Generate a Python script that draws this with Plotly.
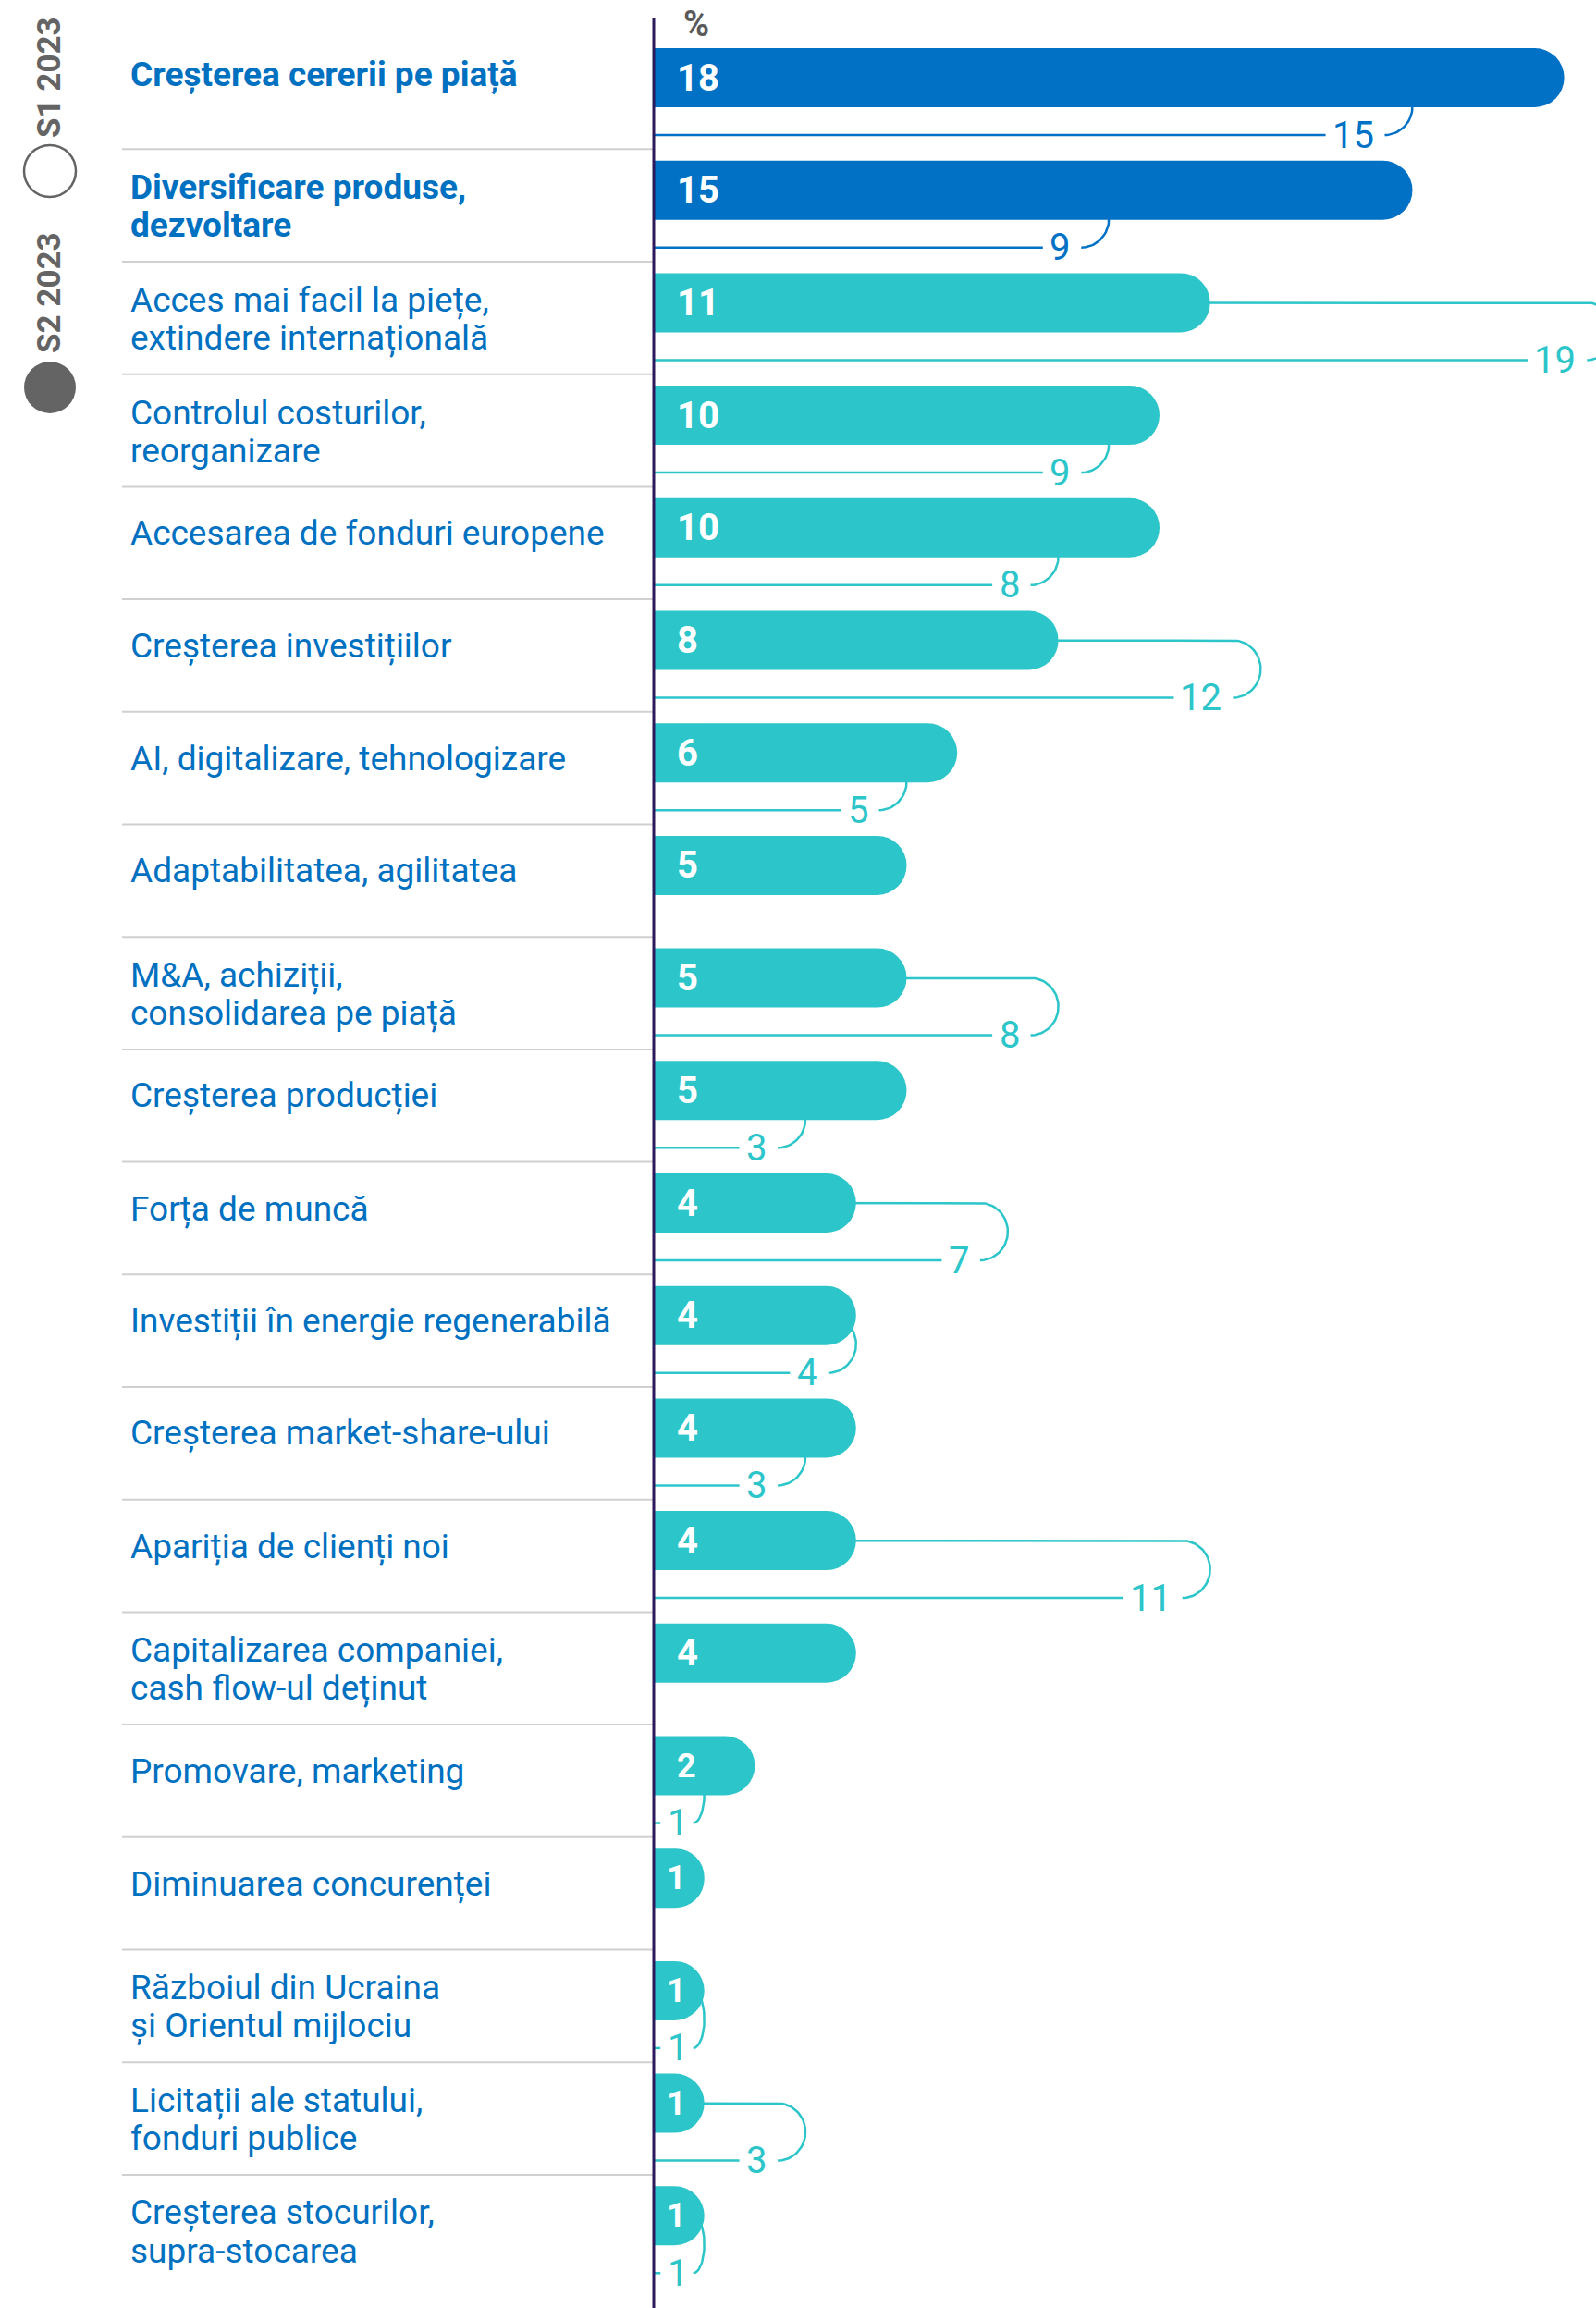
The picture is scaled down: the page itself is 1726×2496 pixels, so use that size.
import numpy as np
import plotly.graph_objects as go

# ---------------- data ----------------
categories = [
    "Creșterea cererii pe piață",
    "Diversificare produse,<br>dezvoltare",
    "Acces mai facil la piețe,<br>extindere internațională",
    "Controlul costurilor,<br>reorganizare",
    "Accesarea de fonduri europene",
    "Creșterea investițiilor",
    "AI, digitalizare, tehnologizare",
    "Adaptabilitatea, agilitatea",
    "M&A, achiziții,<br>consolidarea pe piață",
    "Creșterea producției",
    "Forța de muncă",
    "Investiții în energie regenerabilă",
    "Creșterea market-share-ului",
    "Apariția de clienți noi",
    "Capitalizarea companiei,<br>cash flow-ul deținut",
    "Promovare, marketing",
    "Diminuarea concurenței",
    "Războiul din Ucraina<br>și Orientul mijlociu",
    "Licitații ale statului,<br>fonduri publice",
    "Creșterea stocurilor,<br>supra-stocarea",
]
s2_2023 = [18, 15, 11, 10, 10, 8, 6, 5, 5, 5, 4, 4, 4, 4, 4, 2, 1, 1, 1, 1]
s1_2023 = [15, 9, 19, 9, 8, 12, 5, None, 8, 3, 7, 4, 3, 11, None, 1, None, 1, 3, 1]
highlighted = [True, True] + [False] * 18
series_names = ["S1 2023", "S2 2023"]
unit_label = "%"

# ---------------- style / layout constants ----------------
W, H = 1726, 2496
AXIS_X = 707          # px of the value axis
PX = 54.7             # px per percentage point
ROW = 121.7           # px per row
TOP = 84              # px of first bar centre
BAR_PX = 64
LOW_PX = 62           # offset of the S1 line below the bar centre
S1_SIZE = 40
DIGIT_W = 0.562 * S1_SIZE

BLUE = "#0071C5"
TEAL = "#2CC5C9"
TEXT_BLUE = "#0070C0"
GRAY = "#646464"
AXIS_COL = "#2D1A5C"
FONT = "Roboto"

n = len(categories)
rows = list(range(n))
half = (LOW_PX / ROW) / 2

fig = go.Figure()

# S1 connectors (on base axis, drawn under the bars)
for i, (v, hl) in enumerate(zip(s1_2023, highlighted)):
    if v is None:
        continue
    col = BLUE if hl else TEAL
    r_px = 30 if v >= 2 else 12
    gap = 10 if v >= 2 else 4
    r = r_px / PX
    th = np.linspace(-np.pi / 2, np.pi / 2, 41)
    xs = [0, v - r] + list(v - r + r * np.cos(th))
    ys = [i, i] + list(i + half + half * np.sin(th))
    lab = str(v)
    lab_right = v - r - gap / PX
    lab_left = lab_right - len(lab) * DIGIT_W / PX
    xs += [None, max(lab_left - 9 / PX, 0), 0]
    ys += [None, i + 2 * half, i + 2 * half]
    fig.add_trace(go.Scatter(x=xs, y=ys, mode="lines",
                             line=dict(color=col, width=2.5),
                             hoverinfo="skip", showlegend=False))
    fig.add_annotation(x=lab_right, y=i + 2 * half, xref="x", yref="y",
                       text=lab, showarrow=False, xanchor="right", yanchor="middle",
                       font=dict(family=FONT, size=S1_SIZE, color=col))

# S2 bars (on overlaying axis so they cover the connectors)
fig.add_trace(go.Bar(
    x=s2_2023, y=rows, orientation="h", yaxis="y2",
    width=BAR_PX / ROW,
    marker=dict(color=[BLUE if h else TEAL for h in highlighted],
                cornerradius="50%", line=dict(width=0)),
    hoverinfo="skip", showlegend=False,
))

# values inside bars
for i, v in enumerate(s2_2023):
    fig.add_annotation(x=0, y=i, xref="x", yref="y", text=str(v), showarrow=False,
                       xanchor="left", yanchor="middle", xshift=23 if v >= 2 else 12,
                       font=dict(family=FONT, size=40 if v >= 3 else 36,
                                 color="white", weight="bold"))

# category labels
for i, (lab, hl) in enumerate(zip(categories, highlighted)):
    parts = lab.split("<br>")
    base = 3 if (len(parts) > 1 or hl) else -6
    for k, line in enumerate(parts):
        fig.add_annotation(x=0, y=i, xref="paper", yref="y", text=line, showarrow=False,
                           xanchor="left", yanchor="middle",
                           xshift=139 - AXIS_X, yshift=base - 41 * k,
                           font=dict(family=FONT, size=37, color=TEXT_BLUE,
                                     weight="bold" if hl else "normal"))

shapes = []
# row separators
for i in range(n - 1):
    shapes.append(dict(type="line", xref="paper", xsizemode="pixel", xanchor=0,
                       x0=132 - AXIS_X, x1=0, yref="y", y0=i + 0.635, y1=i + 0.635,
                       line=dict(color="#D0D0D0", width=2), layer="above"))
# value axis line
shapes.append(dict(type="line", xref="paper", x0=0, x1=0, yref="paper",
                   y0=0, y1=1 - 19 / H, line=dict(color=AXIS_COL, width=3), layer="above"))
# legend circles
shapes.append(dict(type="circle", xref="paper", xsizemode="pixel", xanchor=0,
                   x0=26 - AXIS_X, x1=82 - AXIS_X, yref="paper", ysizemode="pixel",
                   yanchor=1, y0=-157, y1=-213,
                   line=dict(color=GRAY, width=2.5), fillcolor="white"))
shapes.append(dict(type="circle", xref="paper", xsizemode="pixel", xanchor=0,
                   x0=26 - AXIS_X, x1=82 - AXIS_X, yref="paper", ysizemode="pixel",
                   yanchor=1, y0=-391, y1=-447,
                   line=dict(color=GRAY, width=0), fillcolor=GRAY))

# legend texts (rotated)
for name, cy in zip(series_names, [84, 317]):
    fig.add_annotation(x=0, y=1, xref="paper", yref="paper", text=name, showarrow=False,
                       textangle=-90, xanchor="center", yanchor="middle",
                       xshift=53 - AXIS_X, yshift=-cy,
                       font=dict(family=FONT, size=35, color=GRAY, weight="bold"))

# unit label
fig.add_annotation(x=0, y=1, xref="paper", yref="paper", text=unit_label, showarrow=False,
                   xanchor="center", yanchor="middle", xshift=46, yshift=-26,
                   font=dict(family=FONT, size=38, color="#595959", weight="bold"))

yr = [(H - TOP) / ROW, -TOP / ROW]
fig.update_layout(
    width=W, height=H,
    margin=dict(l=AXIS_X, r=0, t=0, b=0, pad=0),
    paper_bgcolor="white", plot_bgcolor="white",
    showlegend=False,
    shapes=shapes,
    xaxis=dict(range=[0, (W - AXIS_X) / PX], visible=False, fixedrange=True),
    yaxis=dict(range=yr, visible=False, fixedrange=True),
    yaxis2=dict(range=yr, visible=False, overlaying="y", anchor="x", fixedrange=True),
)

fig.write_html("out.html", config={"displayModeBar": False},
               post_script="document.body.style.margin='0';")
